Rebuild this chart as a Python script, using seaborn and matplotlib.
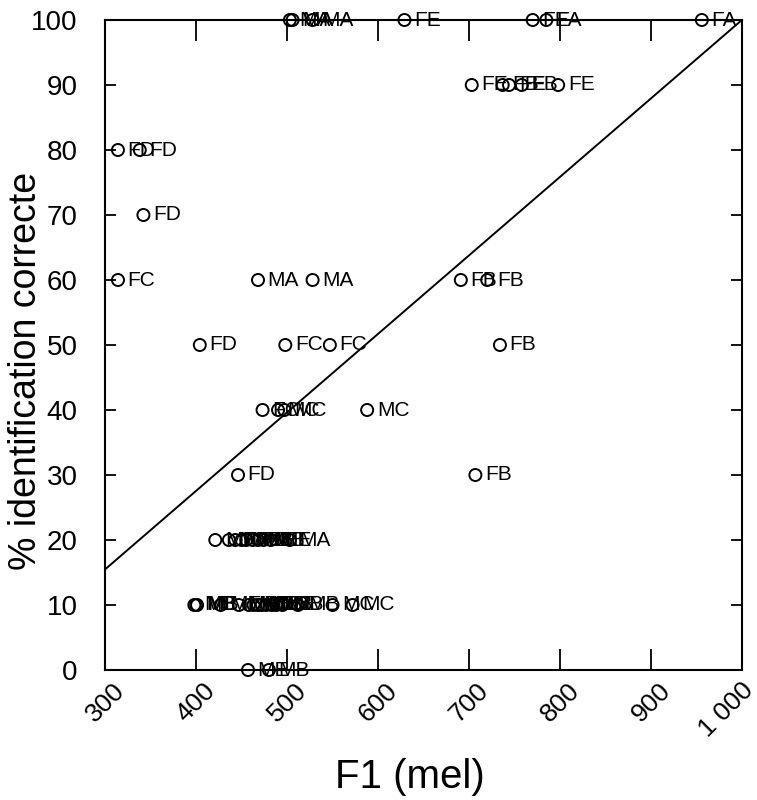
import matplotlib
matplotlib.use("Agg")
import matplotlib.pyplot as plt
import matplotlib.transforms as mtrans
import seaborn as sns
import pandas as pd

# F1 (mel) of each token, % correct identification, vowel label
f1_mel = [503, 506, 528, 629, 770, 785, 956,
          703, 737, 744, 758, 798,
          314, 338,
          342,
          314, 468, 528, 691, 720,
          404, 498, 547, 734,
          473, 490, 497, 588,
          446, 707,
          421, 436, 443, 450, 455, 462, 468, 474, 482, 503,
          398, 400, 401, 427, 447, 458, 463, 468, 472, 477, 483, 488, 495, 512, 550, 572,
          457, 480]
pct_correct = [100] * 7 + [90] * 5 + [80] * 2 + [70] + [60] * 5 + [50] * 4 + [40] * 4 + \
              [30] * 2 + [20] * 10 + [10] * 16 + [0] * 2
labels = ["MA", "MA", "MA", "FE", "FE", "FA", "FA",
          "FE", "FB", "FE", "FB", "FE",
          "FD", "FD",
          "FD",
          "FC", "MA", "MA", "FB", "FB",
          "FD", "FC", "FC", "FB",
          "FC", "MC", "MC", "MC",
          "FD", "FB",
          "ME", "MB", "ME", "MB", "MD", "MB", "ME", "MB", "ME", "MA",
          "MB", "ME", "MB", "ME", "MB", "MD", "MB", "ME", "MB", "MD", "MB", "ME", "MB", "MB", "MC", "MC",
          "ME", "MB"]

# fitted line (end points)
fit_x = [300, 1000]
fit_y = [15.5, 100]

x_ticks = [300, 400, 500, 600, 700, 800, 900, 1000]
x_tick_labels = ["300", "400", "500", "600", "700", "800", "900", "1 000"]
y_ticks = list(range(0, 101, 10))

df = pd.DataFrame({"f1": f1_mel, "pct": pct_correct, "lab": labels})

sns.set_style("ticks")
plt.rcParams["font.family"] = ["Liberation Sans", "DejaVu Sans"]
plt.rcParams.update({"text.color": "black", "axes.labelcolor": "black",
                     "xtick.color": "black", "ytick.color": "black",
                     "axes.edgecolor": "black"})

fig = plt.figure(figsize=(7.57, 8), dpi=100)
ax = fig.add_axes([0.139, 0.1625, 0.841, 0.8125])

sns.lineplot(x=fit_x, y=fit_y, ax=ax, color="black", linewidth=1.4)
sns.scatterplot(data=df, x="f1", y="pct", ax=ax, marker="o", s=75,
                facecolor="none", edgecolor="black", linewidth=1.4, zorder=3,
                clip_on=False)
for xv, yv, t in zip(df["f1"], df["pct"], df["lab"]):
    ax.annotate(t, (xv, yv), xytext=(7, 0), textcoords="offset points",
                va="center", ha="left", fontsize=15, annotation_clip=False)

ax.set_xlim(300, 1000)
ax.set_ylim(0, 100)
ax.set_xticks(x_ticks)
ax.set_xticklabels(x_tick_labels, rotation=45, ha="center", fontsize=19)
ax.set_yticks(y_ticks)
ax.tick_params(axis="y", labelsize=20, pad=20)
ax.tick_params(axis="x", direction="in", length=15, width=1.3, top=True, pad=6)
ax.tick_params(axis="y", direction="in", length=8, width=1.3, right=True)
for s in ax.spines.values():
    s.set_linewidth(1.5)
    s.set_color("black")
    s.set_visible(True)

# keep the last tick label inside the picture
last = ax.get_xticklabels()[-1]
last.set_transform(last.get_transform() + mtrans.ScaledTranslation(-16 / 100, 0, fig.dpi_scale_trans))

ax.set_xlabel("F1 (mel)", fontsize=29)
ax.xaxis.set_label_coords(0.479, -0.135)
ax.set_ylabel("% identification correcte", fontsize=27)
ax.yaxis.set_label_coords(-0.096, 0.46)

fig.savefig("out.png", dpi=100)
